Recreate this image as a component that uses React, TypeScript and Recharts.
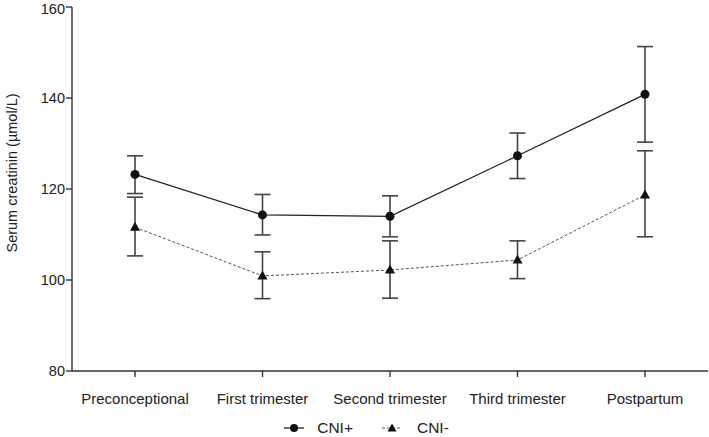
import React from "react";
import { LineChart, Line, XAxis, YAxis, ErrorBar, Legend, Label } from "recharts";

const categories = ["Preconceptional", "First trimester", "Second trimester", "Third trimester", "Postpartum"];
const cniPlus = [123.2, 114.3, 114.0, 127.3, 140.8];
const cniPlusLow = [119.0, 109.9, 109.5, 122.3, 130.3];
const cniPlusHigh = [127.3, 118.8, 118.5, 132.3, 151.3];
const cniMinus = [111.6, 100.9, 102.2, 104.4, 118.7];
const cniMinusLow = [105.3, 95.9, 96.0, 100.3, 109.5];
const cniMinusHigh = [118.2, 106.2, 108.6, 108.6, 128.4];
const yTicks = [80, 100, 120, 140, 160];

const data = categories.map((name, i) => ({
  name,
  plus: cniPlus[i],
  plusErr: [cniPlus[i] - cniPlusLow[i], cniPlusHigh[i] - cniPlus[i]],
  minus: cniMinus[i],
  minusErr: [cniMinus[i] - cniMinusLow[i], cniMinusHigh[i] - cniMinus[i]],
}));

const FONT = "'Liberation Sans', Arial, sans-serif";
const INK = "#222";

function Triangle(props: any) {
  const { cx, cy } = props;
  if (cx == null || cy == null) return null;
  return <path d={`M${cx},${cy - 5.5} L${cx + 5},${cy + 3.5} L${cx - 5},${cy + 3.5} Z`} fill="#111" />;
}

function Dot(props: any) {
  const { cx, cy } = props;
  if (cx == null || cy == null) return null;
  return <circle cx={cx} cy={cy} r={4.5} fill="#111" />;
}

function LegendBox() {
  return (
    <div style={{ display: "flex", justifyContent: "center", alignItems: "center", gap: 28, fontFamily: FONT, fontSize: 15.5, color: INK, paddingTop: 12, marginLeft: 24 }}>
      <span style={{ display: "flex", alignItems: "center" }}>
        <svg width={22} height={12}>
          <line x1={1} y1={6} x2={21} y2={6} stroke="#222" strokeWidth={1.3} />
          <circle cx={11} cy={6} r={4} fill="#111" />
        </svg>
        <span style={{ marginLeft: 12 }}>CNI+</span>
      </span>
      <span style={{ display: "flex", alignItems: "center" }}>
        <svg width={22} height={12}>
          <line x1={1} y1={6} x2={21} y2={6} stroke="#555" strokeWidth={1} strokeDasharray="3 2" />
          <path d="M11,1.5 L15.5,9.5 L6.5,9.5 Z" fill="#111" />
        </svg>
        <span style={{ marginLeft: 14 }}>CNI-</span>
      </span>
    </div>
  );
}

export default function App() {
  return (
    <div style={{ position: "absolute", left: 0, top: 0, width: 709, height: 437, background: "#fff" }}>
      <LineChart width={709} height={437} data={data} margin={{ top: 7, right: 1, left: 0, bottom: 0 }}>
        <XAxis
          dataKey="name"
          padding={{ left: 63, right: 63 }}
          tick={{ fill: INK, fontSize: 15, fontFamily: FONT }}
          tickSize={6}
          tickMargin={16}
          height={36}
          axisLine={{ stroke: "#333", strokeWidth: 1.4 }}
          tickLine={{ stroke: "#333", strokeWidth: 1.4 }}
        />
        <YAxis
          domain={[80, 160]}
          ticks={yTicks}
          width={72}
          tick={{ fill: INK, fontSize: 14.5, fontFamily: FONT }}
          tickSize={6}
          tickMargin={1}
          axisLine={{ stroke: "#333", strokeWidth: 1.4 }}
          tickLine={{ stroke: "#333", strokeWidth: 1.4 }}
        >
          <Label
            content={() => (
              <text x={17} y={173} transform="rotate(-90 17 173)" textAnchor="middle" fill={INK} fontSize={14.5} fontFamily={FONT}>
                Serum creatinin (µmol/L)
              </text>
            )}
          />
        </YAxis>
        <Legend verticalAlign="bottom" height={30} content={() => <LegendBox />} />
        <Line
          dataKey="minus"
          name="CNI-"
          stroke="#555"
          strokeWidth={1}
          strokeDasharray="3 2"
          dot={<Triangle />}
          activeDot={false}
          isAnimationActive={false}
        >
          <ErrorBar dataKey="minusErr" width={8} stroke="#444" strokeWidth={1.6} direction="y" />
        </Line>
        <Line
          dataKey="plus"
          name="CNI+"
          stroke="#222"
          strokeWidth={1.3}
          dot={<Dot />}
          activeDot={false}
          isAnimationActive={false}
        >
          <ErrorBar dataKey="plusErr" width={8} stroke="#444" strokeWidth={1.6} direction="y" />
        </Line>
      </LineChart>
    </div>
  );
}
